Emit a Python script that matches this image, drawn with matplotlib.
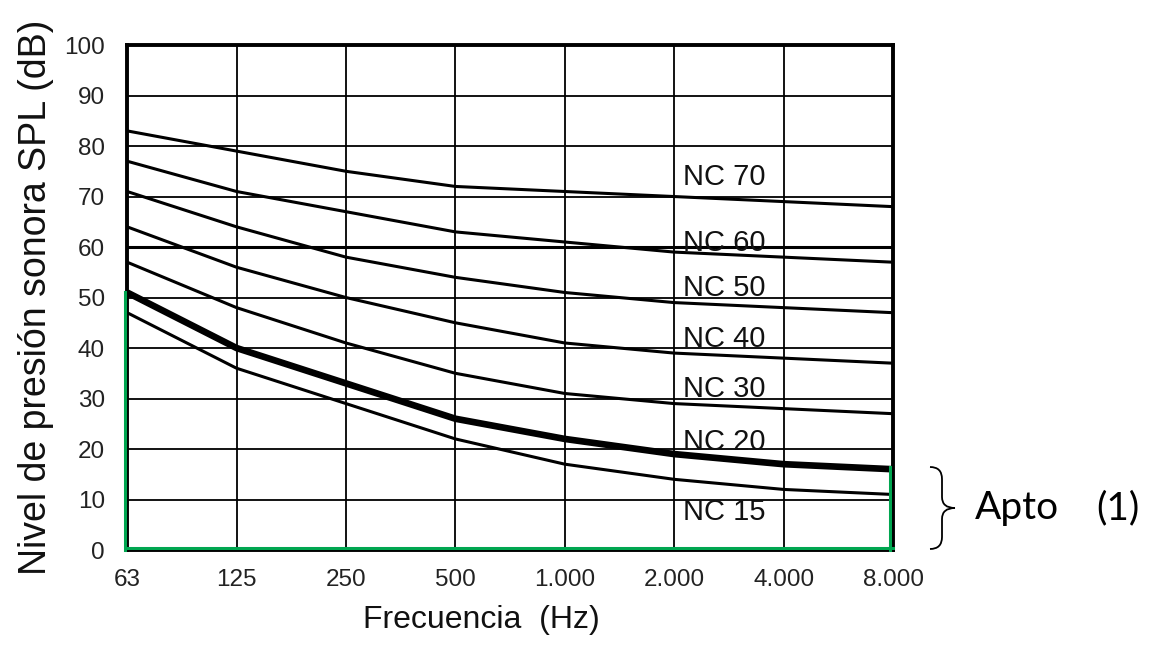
import matplotlib.pyplot as plt
import matplotlib.transforms as mtransforms
from matplotlib.path import Path
from matplotlib.patches import PathPatch

freq_labels = ['63', '125', '250', '500', '1.000', '2.000', '4.000', '8.000']

nc15 = [47, 36, 29, 22, 17, 14, 12, 11]
nc20 = [51, 40, 33, 26, 22, 19, 17, 16]
nc30 = [57, 48, 41, 35, 31, 29, 28, 27]
nc40 = [64, 56, 50, 45, 41, 39, 38, 37]
nc50 = [71, 64, 58, 54, 51, 49, 48, 47]
nc60 = [77, 71, 67, 63, 61, 59, 58, 57]
nc70 = [83, 79, 75, 72, 71, 70, 69, 68]

curve_names = ['NC 70', 'NC 60', 'NC 50', 'NC 40', 'NC 30', 'NC 20', 'NC 15']
curve_values = [nc70, nc60, nc50, nc40, nc30, nc20, nc15]
label_y = [73.8, 60.8, 51.8, 41.8, 31.8, 21.4, 7.6]

apto_top = 16.5  # green box: limit of acceptance at 8 kHz
apto_left = 51

plt.rcParams['font.family'] = ['Liberation Sans', 'DejaVu Sans']

fig = plt.figure(figsize=(11.56, 6.52), dpi=100)
ax = fig.add_axes([0.110, 0.1564, 0.6625, 0.7745])

x = list(range(len(freq_labels)))

for name, vals in zip(curve_names, curve_values):
    lw = 4.8 if name == 'NC 20' else 2.2
    ax.plot(x, vals, color='black', lw=lw, solid_capstyle='butt', zorder=3)

for name, yy in zip(curve_names, label_y):
    ax.text(5.08, yy, name, fontsize=21, color='#111111', va='center', ha='left', zorder=4)

# green "apto" region outline, nudged just inside/outside the black frame
green = '#00a650'
t_left = mtransforms.offset_copy(ax.transData, fig=fig, x=-2, y=0, units='dots')
t_bot = mtransforms.offset_copy(ax.transData, fig=fig, x=0, y=2, units='dots')
t_right = mtransforms.offset_copy(ax.transData, fig=fig, x=-3, y=0, units='dots')
ax.plot([0, 0], [0, apto_left], color=green, lw=2.2, zorder=7, clip_on=False, transform=t_left)
ax.plot([0, 7], [0, 0], color=green, lw=2.2, zorder=7, clip_on=False, transform=t_bot)
ax.plot([7, 7], [0, apto_top], color=green, lw=2.2, zorder=7, clip_on=False, transform=t_right)

ax.set_xlim(0, 7)
ax.set_ylim(0, 100)
ax.set_xticks(x)
ax.set_xticklabels(freq_labels)
ax.set_yticks(range(0, 101, 10))
ax.tick_params(length=0, labelsize=17.5, colors='#222222')
ax.tick_params(axis='x', pad=14)
ax.tick_params(axis='y', pad=16)
ax.grid(True, color='black', lw=1.3, zorder=1)
ax.axhline(60, color='black', lw=2.2, zorder=2)
for s in ax.spines.values():
    s.set_linewidth(2.8)
    s.set_zorder(6)

ax.set_xlabel('Frecuencia  (Hz)', fontsize=23, color='#111111')
ax.xaxis.set_label_coords(0.463, -0.108)
ax.set_ylabel('Nivel de presión sonora SPL (dB)', fontsize=27, color='#111111')
ax.yaxis.set_label_coords(-0.096, 0.50)

# brace and annotation on the right
W, H = 1156.0, 652.0
codes = [Path.MOVETO, Path.CURVE3, Path.CURVE3, Path.LINETO, Path.CURVE3, Path.CURVE3,
         Path.MOVETO, Path.CURVE3, Path.CURVE3, Path.LINETO, Path.CURVE3, Path.CURVE3]
pts = [(930, 467), (942, 467), (942, 479), (942, 497), (942, 508), (955, 508),
       (955, 508), (942, 508), (942, 519), (942, 537), (942, 549), (930, 549)]
path = Path([(px / W, 1 - py / H) for px, py in pts], codes)
fig.patches.append(PathPatch(path, transform=fig.transFigure, fill=False, lw=1.3, color='black'))

fig.text(975 / W, 1 - 508 / H, 'Apto', fontsize=28, family='Lato', va='center', ha='left')
fig.text(1096 / W, 1 - 508 / H, '(1)', fontsize=28, family='Lato', va='center', ha='left')

fig.savefig('out.png', dpi=100)
